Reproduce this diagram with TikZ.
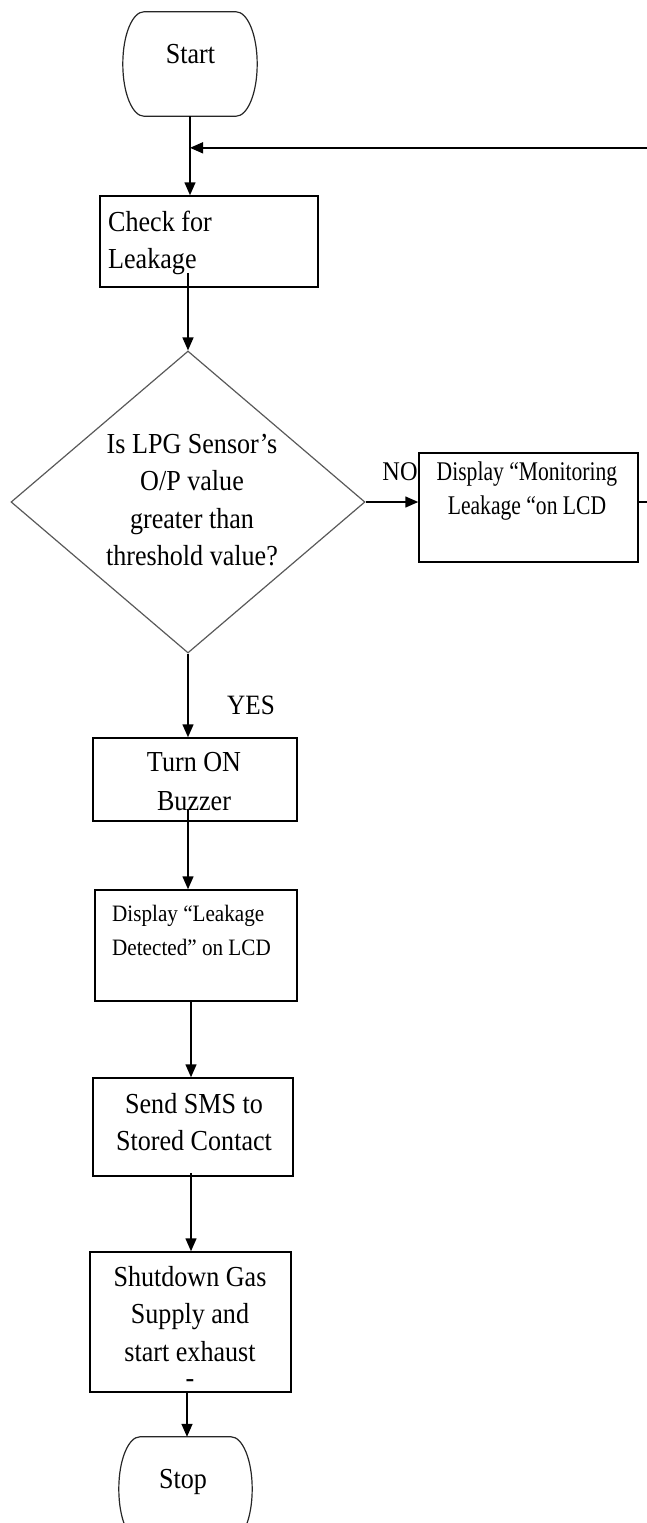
\documentclass[tikz,border=0pt]{standalone}
\usepackage{fontspec}
\setmainfont{Liberation Serif}
\newfontfamily\fa[FakeStretch=0.9]{Liberation Serif}
\newfontfamily\fb[FakeStretch=0.8]{Liberation Serif}
\usetikzlibrary{shapes.geometric,arrows.meta,calc}
\newcommand\drawstadium[1]{%
 \draw[term] ($(#1.north west)+(21,0)$) -- ($(#1.north east)+(-21,0)$)
  .. controls ($(#1.north east)+(-10,0)$) and ($(#1.east)+(0,-30)$) .. (#1.east)
  .. controls ($(#1.east)+(0,30)$) and ($(#1.south east)+(-10,0)$) .. ($(#1.south east)+(-21,0)$)
  -- ($(#1.south west)+(21,0)$)
  .. controls ($(#1.south west)+(10,0)$) and ($(#1.west)+(0,30)$) .. (#1.west)
  .. controls ($(#1.west)+(0,-30)$) and ($(#1.north west)+(10,0)$) .. cycle;}
\begin{document}
\begin{tikzpicture}[x=1pt,y=-1pt,
  box/.style={draw=black,line width=1.5pt,inner sep=0pt},
  term/.style={draw=black!85,line width=1.2pt},
  txt/.style={inner sep=0pt,font=\fa\fontsize{29}{37.5}\selectfont},
  tip/.style={-{Triangle[length=13pt,width=11pt]}},
  arr/.style={line width=1.5pt,tip},
  ln/.style={line width=1.5pt}]
\useasboundingbox (0,0) rectangle (647,1523);
\clip (0,0) rectangle (647,1523);

% Start
\node[inner sep=0pt, minimum width=134, minimum height=104] (start) at (190,64) {};
\drawstadium{start}
\node[txt] (startt) at (190.5,54) {Start};

% Check
\node[box, minimum width=218, minimum height=91] (chk) at (209,241.5) {};
\node[txt, anchor=west, align=left] (chkt) at (108,243) {Check for\\Leakage};

% Decision
\node[diamond, draw=black!65, line width=1.2pt, minimum width=354, minimum height=302, inner sep=0pt, aspect=1.17] (dia) at (188,502) {};
\node[txt, align=center] (diat) at (192,500) {Is LPG Sensor’s\\O/P value\\greater than\\threshold value?};

% NO branch
\node[box, minimum width=219, minimum height=109] (no) at (528.5,507.5) {};
\node[txt, font=\fb\fontsize{27}{34}\selectfont, align=center] (not) at (527,491) {Display “Monitoring\\Leakage “on LCD};
\node[txt, font=\fa\fontsize{27}{34}\selectfont] (nolab) at (400,472) {NO};

% YES branch
\node[txt, font=\fa\fontsize{28}{34}\selectfont] (yeslab) at (251,705.5) {YES};
\node[box, minimum width=204, minimum height=83] (on) at (195,779.5) {};
\node[txt, font=\fa\fontsize{29}{39}\selectfont, align=center] (ont) at (194,781.5) {Turn ON\\Buzzer};

\node[box, minimum width=202, minimum height=111] (disp) at (196,945.5) {};
\node[txt, font=\fa\fontsize{23.5}{34}\selectfont, anchor=west, align=left] (dispt) at (112,930) {Display “Leakage\\Detected” on LCD};

\node[box, minimum width=200, minimum height=98] (sms) at (193,1127) {};
\node[txt, font=\fa\fontsize{29}{37}\selectfont, align=center] (smst) at (194,1122) {Send SMS to\\Stored Contact};

\node[box, minimum width=201, minimum height=140] (shut) at (190.5,1322) {};
\node[txt, align=center] (shutt) at (190,1327) {Shutdown Gas\\Supply and\\start exhaust\\[-11pt]-};

% Stop
\node[inner sep=0pt, minimum width=133, minimum height=104] (stop) at (185.5,1489) {};
\drawstadium{stop}
\node[txt] (stopt) at (183,1482) {Stop};

% connectors
\coordinate (join) at ($(start.south)!0.4!(start.south |- chk.north)$);
\draw[arr] (start.south) -- (start.south |- chk.north);
\coordinate (a2) at ($(dia.north |- chk.south)+(0,-15)$);
\draw[arr] (a2) -- (dia.north);
\draw[arr] (dia.east) -- (dia.east -| no.west);
\coordinate (a3) at (dia.east -| no.east);
\draw[arr] (a3) -- ++(25,0) |- (join);
\draw[arr] (dia.south) -- (dia.south |- on.north);
\coordinate (a4) at ($(on.south -| dia.south)+(0,-13)$);
\draw[arr] (a4) -- (a4 |- disp.north);
\coordinate (a5) at ($(disp.south)+(-5,0)$);
\draw[arr] (a5) -- (a5 |- sms.north);
\coordinate (a6) at ($(sms.south)+(-2,-4)$);
\draw[arr] (a6) -- (a6 |- shut.north);
\coordinate (a7) at ($(shut.south)+(-3.5,0)$);
\draw[arr] (a7) -- (a7 |- stop.north);
\end{tikzpicture}
\end{document}
